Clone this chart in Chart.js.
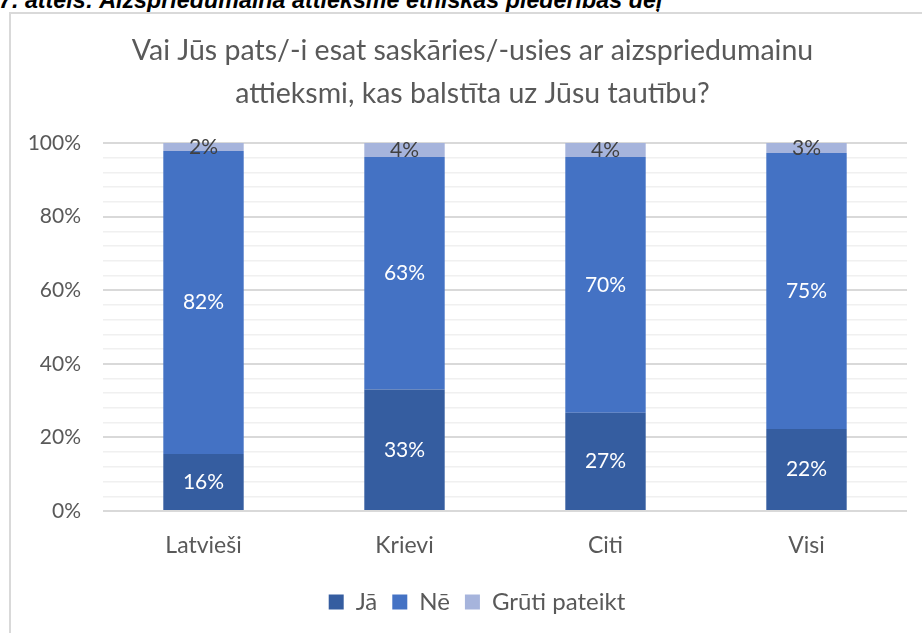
<!DOCTYPE html>
<html>
<head>
<meta charset="utf-8">
<script src="https://cdn.jsdelivr.net/npm/chart.js@4.4.4/dist/chart.umd.min.js"></script>
<style>
  html, body { margin: 0; padding: 0; background: #fff; overflow: hidden; width: 922px; height: 633px; }
  #caption {
    position: absolute; left: -1px; top: -12px; white-space: nowrap;
    font: italic bold 23.3px "Liberation Sans", Arial, sans-serif; line-height: 24px; color: #000;
  }
  #box {
    position: absolute; left: 9px; top: 12px; width: 923px; height: 640px;
    border: 2px solid #d9d9d9; background: #fff;
  }
</style>
</head>
<body>
<div id="caption">7. attēls: Aizspriedumaina attieksme etniskās piederības dēļ</div>
<div id="box"><canvas id="chart" width="923" height="640"></canvas></div>
<script>
const categories = ['Latvieši', 'Krievi', 'Citi', 'Visi'];
const jaValues = [15.5, 33.0, 26.7, 22.3];
const neValues = [82.3, 63.2, 69.5, 75.0];
const grutiValues = [2.2, 3.8, 3.8, 2.7];
const yTicks = [0, 20, 40, 60, 80, 100];

// simple data labels, centred in each stacked segment
const segmentLabels = {
  id: 'segmentLabels',
  afterLayout(chart) {
    // centre title and legend on the whole chart box, not just the padded area
    chart.titleBlock.left = 0;
    chart.titleBlock.right = chart.width;
    chart.legend.left = 9;
    chart.legend.right = chart.width;
  },
  afterDatasetsDraw(chart) {
    const ctx = chart.ctx;
    ctx.save();
    ctx.font = '21px Lato';
    ctx.textAlign = 'center';
    ctx.textBaseline = 'middle';
    chart.data.datasets.forEach((ds, i) => {
      const meta = chart.getDatasetMeta(i);
      meta.data.forEach((bar, j) => {
        const txt = Math.round(ds.data[j]) + '%';
        ctx.fillStyle = i === 2 ? '#404040' : '#ffffff';
        ctx.fillText(txt, bar.x, (bar.y + bar.base) / 2);
      });
    });
    ctx.restore();
  }
};

new Chart(document.getElementById('chart'), {
  type: 'bar',
  data: {
    labels: categories,
    datasets: [
      { label: 'Jā', data: jaValues, backgroundColor: '#355da0' },
      { label: 'Nē', data: neValues, backgroundColor: '#4472c4' },
      { label: 'Grūti pateikt', data: grutiValues, backgroundColor: '#a6b4dc' },
    ],
  },
  options: {
    responsive: false,
    animation: false,
    layout: { padding: { left: 0, right: 27, top: 0, bottom: 30 } },
    datasets: { bar: { categoryPercentage: 1, barPercentage: 0.4, borderWidth: 0 } },
    plugins: {
      title: {
        display: true,
        text: ['Vai Jūs pats/-i esat saskāries/-usies ar aizspriedumainu', 'attieksmi, kas balstīta uz Jūsu tautību?'],
        color: '#595959',
        font: { family: 'Lato', size: 28.5, weight: 'normal', lineHeight: 1.509 },
        padding: { top: 15, bottom: 28 },
      },
      legend: {
        position: 'bottom',
        labels: {
          color: '#595959',
          font: { family: 'Lato', size: 24 },
          boxWidth: 15, boxHeight: 15,
          padding: 15,
        },
      },
      tooltip: { enabled: false },
    },
    scales: {
      x: {
        stacked: true,
        grid: { display: false, drawTicks: false },
        border: { display: false },
        afterFit(scale) { scale.height = 64; },
        ticks: { color: '#595959', font: { family: 'Lato', size: 23 }, padding: 21 },
      },
      y: {
        stacked: true,
        min: 0, max: 100,
        afterFit(scale) { scale.width = 92; },
        afterBuildTicks(scale) {
          const t = [];
          for (let v = 0; v <= 100; v += 4) t.push({ value: v });
          scale.ticks = t;
        },
        grid: {
          drawTicks: false,
          color: c => (yTicks.includes(c.tick.value) ? '#d9d9d9' : '#f0f0f0'),
          lineWidth: c => (yTicks.includes(c.tick.value) ? 2 : 1.5),
        },
        border: { display: false },
        ticks: {
          autoSkip: false,
          color: '#595959',
          font: { family: 'Lato', size: 21 },
          padding: 22,
          callback: v => (yTicks.includes(v) ? v + '%' : ''),
        },
      },
    },
  },
  plugins: [segmentLabels],
});
</script>
</body>
</html>
